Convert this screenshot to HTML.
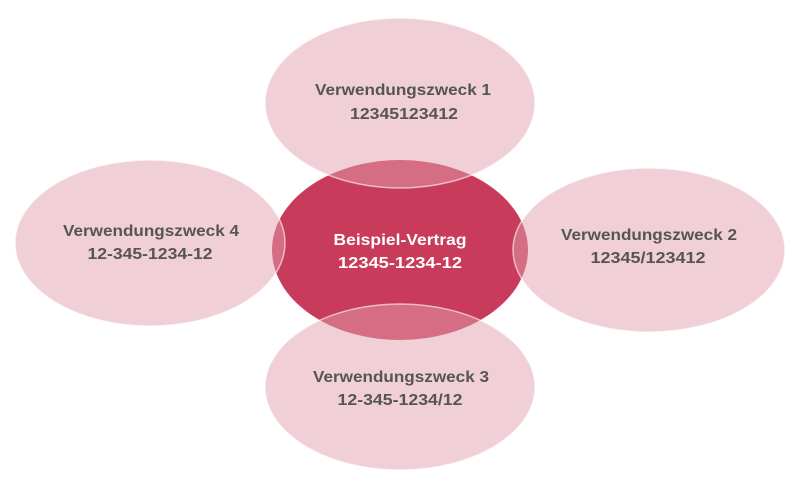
<!DOCTYPE html>
<html><head><meta charset="utf-8"><style>html,body{margin:0;padding:0;background:#fff}svg{display:block}</style></head>
<body>
<svg width="800" height="491" viewBox="0 0 800 491" xmlns="http://www.w3.org/2000/svg">
<ellipse cx="400" cy="250" rx="128" ry="90" fill="#c93b5b"/>
<g fill="#e29fb0" fill-opacity="0.5" stroke="#fff" stroke-opacity="0.6" stroke-width="1.5">
<ellipse cx="400" cy="103" rx="135" ry="85"/>
<ellipse cx="649" cy="250" rx="136" ry="82"/>
<ellipse cx="400" cy="387" rx="135" ry="83"/>
<ellipse cx="150" cy="243" rx="135" ry="83"/>
</g>
<g font-family="Liberation Sans, sans-serif" font-weight="bold" font-size="16" fill="#555" text-anchor="middle" lengthAdjust="spacingAndGlyphs">
<text x="403" y="95" textLength="176" lengthAdjust="spacingAndGlyphs">Verwendungszweck 1</text>
<text x="404" y="119" textLength="108" lengthAdjust="spacingAndGlyphs">12345123412</text>
<text x="649" y="240" textLength="176" lengthAdjust="spacingAndGlyphs">Verwendungszweck 2</text>
<text x="648" y="263" textLength="115" lengthAdjust="spacingAndGlyphs">12345/123412</text>
<text x="401" y="382" textLength="176" lengthAdjust="spacingAndGlyphs">Verwendungszweck 3</text>
<text x="400" y="405" textLength="125" lengthAdjust="spacingAndGlyphs">12-345-1234/12</text>
<text x="151" y="236" textLength="176" lengthAdjust="spacingAndGlyphs">Verwendungszweck 4</text>
<text x="150" y="259" textLength="125" lengthAdjust="spacingAndGlyphs">12-345-1234-12</text>
<text x="400" y="245" fill="#fff" textLength="133" lengthAdjust="spacingAndGlyphs">Beispiel-Vertrag</text>
<text x="400" y="268" fill="#fff" textLength="124" lengthAdjust="spacingAndGlyphs">12345-1234-12</text>
</g>
</svg>
</body></html>
